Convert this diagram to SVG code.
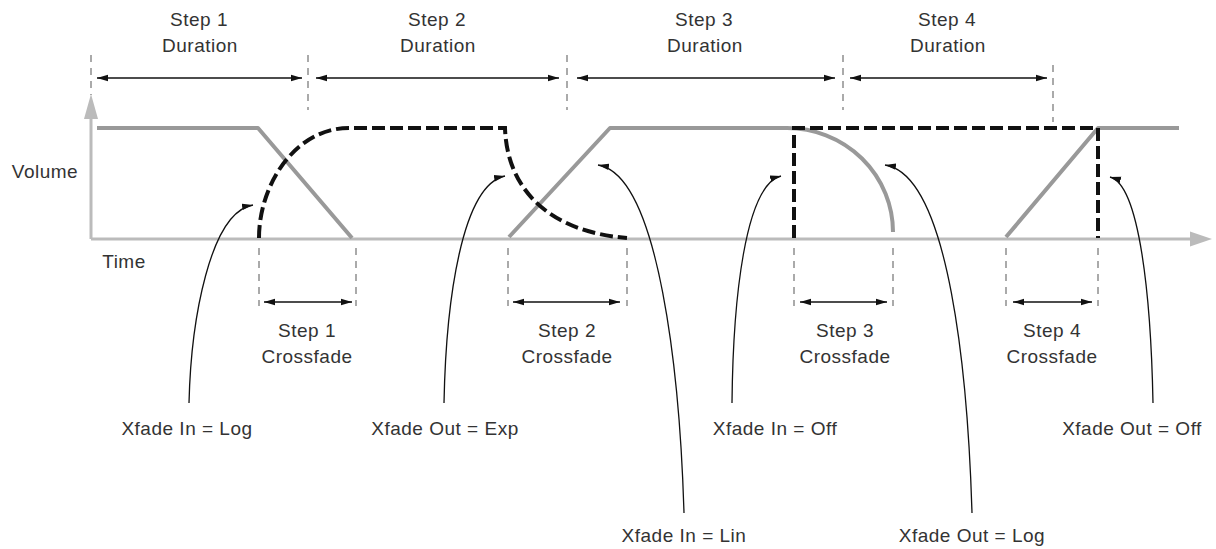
<svg xmlns="http://www.w3.org/2000/svg" width="1216" height="549" viewBox="0 0 1216 549">
<style>
  text { font-family: "Liberation Sans", Arial, sans-serif; font-size: 19px; letter-spacing: 0.5px; fill: #333; text-anchor: middle; }
  .guide { stroke: #aaa; stroke-width: 2; stroke-dasharray: 7 6; fill: none; }
  .axis { stroke: #bbb; stroke-width: 3; fill: none; }
  .env { stroke: #999; stroke-width: 4; fill: none; stroke-linejoin: round; }
  .xf { stroke: #111; stroke-width: 4; fill: none; stroke-dasharray: 13 5; }
  .dim { stroke: #111; stroke-width: 1.3; fill: none; marker-start: url(#ah); marker-end: url(#ah); }
  .call { stroke: #111; stroke-width: 1.3; fill: none; marker-end: url(#ah); }
</style>
<defs>
  <marker id="ah" markerUnits="userSpaceOnUse" markerWidth="12" markerHeight="8" refX="11" refY="4" orient="auto-start-reverse">
    <path d="M0,0.8 L11,4 L0,7.2 z" fill="#111"/>
  </marker>
</defs>
<rect width="1216" height="549" fill="#fff"/>

<g id="axes">
  <path class="axis" d="M91,239 V117"/>
  <path d="M91,94 L84,119 L98,119 z" fill="#bbb"/>
  <path class="axis" d="M91,239 H1192"/>
  <path d="M1212,239 L1190,231.5 L1190,246.5 z" fill="#bbb"/>
  <text x="45" y="178">Volume</text>
  <text x="124" y="268">Time</text>
</g>

<g id="duration-guides">
  <path class="guide" d="M91,55 V95 M308,55 V110 M567,55 V110 M843,55 V110 M1053,65 V122"/>
</g>

<g id="crossfade-guides">
  <path class="guide" d="M259,248 V306 M356,248 V306 M508,248 V306 M627,248 V306 M794,248 V306 M893,248 V306 M1006,248 V306 M1098,248 V306"/>
</g>

<g id="envelope-gray">
  <path class="env" d="M97,128 H258 L352,238"/>
  <path class="env" d="M509,237 L610,128 H787 A106,104 0 0 1 893,232"/>
  <path class="env" d="M1006,237 L1098,128 H1179"/>
</g>

<g id="envelope-black">
  <path class="xf" d="M259,238 C259,185 295,128 349,128 H505 C507,190 550,232 627,238"/>
  <path class="xf" d="M794,238 V128 H1098 V238"/>
</g>

<g id="step1-duration">
  <path class="dim" d="M97,78 H302"/>
  <text x="199" y="26">Step 1</text>
  <text x="200" y="52">Duration</text>
</g>
<g id="step2-duration">
  <path class="dim" d="M316,78 H559"/>
  <text x="437" y="26">Step 2</text>
  <text x="438" y="52">Duration</text>
</g>
<g id="step3-duration">
  <path class="dim" d="M577,78 H835"/>
  <text x="704" y="26">Step 3</text>
  <text x="705" y="52">Duration</text>
</g>
<g id="step4-duration">
  <path class="dim" d="M850,78 H1047"/>
  <text x="947" y="26">Step 4</text>
  <text x="948" y="52">Duration</text>
</g>

<g id="step1-crossfade">
  <path class="dim" d="M264,302 H352"/>
  <text x="307" y="337">Step 1</text>
  <text x="307" y="363">Crossfade</text>
</g>
<g id="step2-crossfade">
  <path class="dim" d="M513,302 H620"/>
  <text x="567" y="337">Step 2</text>
  <text x="567" y="363">Crossfade</text>
</g>
<g id="step3-crossfade">
  <path class="dim" d="M800,302 H887"/>
  <text x="845" y="337">Step 3</text>
  <text x="845" y="363">Crossfade</text>
</g>
<g id="step4-crossfade">
  <path class="dim" d="M1013,302 H1092"/>
  <text x="1052" y="337">Step 4</text>
  <text x="1052" y="363">Crossfade</text>
</g>

<g id="connectors">
  <path class="call" d="M189,403 C191,320 210,212 253,205"/>
  <path class="call" d="M444,403 C446,300 462,185 505,176"/>
  <path class="call" d="M684,513 C680,380 660,175 598,165"/>
  <path class="call" d="M732,403 C733,300 745,185 781,176"/>
  <path class="call" d="M972,513 C968,380 950,175 885,165"/>
  <path class="call" d="M1153,403 C1151,300 1140,185 1110,177"/>
</g>

<g id="label-in-log"><text x="187" y="435">Xfade In = Log</text></g>
<g id="label-out-exp"><text x="445" y="435">Xfade Out = Exp</text></g>
<g id="label-in-lin"><text x="684" y="542">Xfade In = Lin</text></g>
<g id="label-in-off"><text x="775" y="435">Xfade In = Off</text></g>
<g id="label-out-log"><text x="972" y="542">Xfade Out = Log</text></g>
<g id="label-out-off"><text x="1132" y="435">Xfade Out = Off</text></g>
</svg>
